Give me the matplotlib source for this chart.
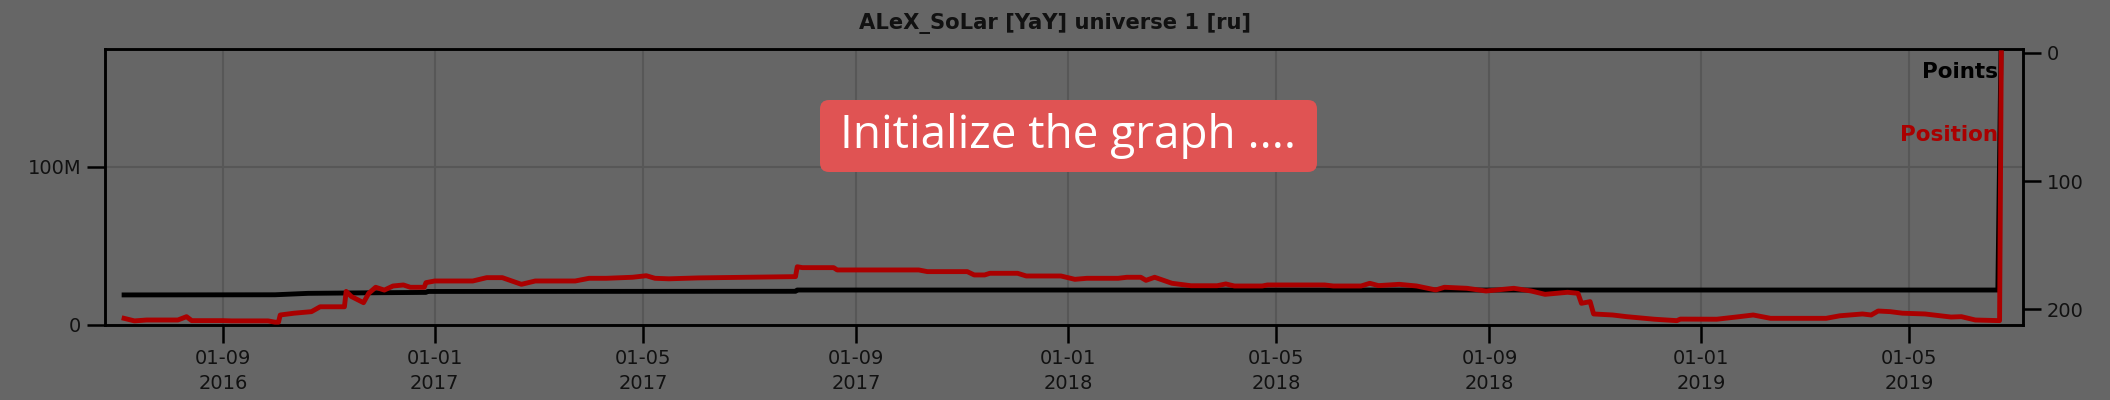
import matplotlib
matplotlib.use("Agg")
import matplotlib.pyplot as plt
import matplotlib.dates as mdates
from matplotlib.patches import FancyBboxPatch
from matplotlib.transforms import IdentityTransform
import pandas as pd

# ---------------- data ----------------
title = "ALeX_SoLar [YaY] universe 1 [ru]"
overlay_text = "Initialize the graph ...."

points_dates = ["2016-07-06", "2016-10-01", "2016-10-20", "2016-12-01", "2016-12-27",
                "2016-12-28", "2017-07-28", "2017-07-29", "2019-06-21", "2019-06-23"]
points_values = [19.0e6, 19.1e6, 20.0e6, 20.4e6, 20.6e6,
                 21.2e6, 21.3e6, 22.1e6, 22.1e6, 190e6]

position_dates = [
    "2016-07-06", "2016-07-12", "2016-07-19", "2016-08-06", "2016-08-11", "2016-08-14",
    "2016-09-01", "2016-09-06", "2016-09-27", "2016-10-01", "2016-10-03", "2016-10-04",
    "2016-10-12", "2016-10-22", "2016-10-27", "2016-11-10", "2016-11-11", "2016-11-14",
    "2016-11-21", "2016-11-24", "2016-11-28", "2016-12-03", "2016-12-08", "2016-12-14",
    "2016-12-18", "2016-12-26", "2016-12-27", "2017-01-01", "2017-01-23", "2017-01-31",
    "2017-02-09", "2017-02-20", "2017-02-28", "2017-03-23", "2017-03-31", "2017-04-10",
    "2017-04-25", "2017-05-03", "2017-05-08", "2017-05-16", "2017-06-02", "2017-07-28",
    "2017-07-29", "2017-08-01", "2017-08-19", "2017-08-21", "2017-10-07", "2017-10-12",
    "2017-11-04", "2017-11-08", "2017-11-14", "2017-11-17", "2017-12-03", "2017-12-08",
    "2017-12-28", "2018-01-05", "2018-01-12", "2018-01-30", "2018-02-04", "2018-02-12",
    "2018-02-15", "2018-02-20", "2018-03-02", "2018-03-13", "2018-03-28", "2018-04-02",
    "2018-04-07", "2018-04-23", "2018-04-26", "2018-05-29", "2018-06-03", "2018-06-19",
    "2018-06-24", "2018-06-29", "2018-07-11", "2018-07-21", "2018-08-01", "2018-08-06",
    "2018-08-19", "2018-08-30", "2018-09-15", "2018-09-25", "2018-10-03", "2018-10-16",
    "2018-10-22", "2018-10-24", "2018-10-29", "2018-10-31", "2018-11-11", "2018-11-19",
    "2018-12-05", "2018-12-18", "2018-12-20", "2019-01-10", "2019-01-23", "2019-01-31",
    "2019-02-10", "2019-03-14", "2019-03-22", "2019-04-04", "2019-04-09", "2019-04-13",
    "2019-04-20", "2019-04-27", "2019-05-10", "2019-05-25", "2019-05-31", "2019-06-08",
    "2019-06-22", "2019-06-23"]
position_values = [
    207, 209, 208.3, 208.3, 205.7, 208.8,
    208.8, 209, 209, 210, 210, 204.4,
    203, 201.8, 198, 198, 186, 190,
    194.8, 187.5, 182.8, 185, 181.8, 181,
    182.8, 182.8, 179.2, 177.9, 177.9, 175.3,
    175.3, 180.5, 177.9, 177.9, 175.8, 175.8,
    175, 173.8, 175.8, 176.2, 175.5, 174.5,
    166.8, 167.5, 167.5, 169.3, 169.3, 170.6,
    170.6, 173.2, 173.2, 171.9, 171.9, 174,
    174, 176.6, 175.8, 175.8, 175, 175,
    177.4, 175, 179.7, 181.6, 181.6, 180.2,
    181.8, 181.8, 181, 181, 181.8, 181.8,
    179.7, 181.5, 180.5, 181.8, 184.9, 182.8,
    183.6, 185.7, 183.6, 185.7, 188.3, 186.7,
    187.5, 195.3, 194, 203.6, 204.4, 205.7,
    207.7, 208.8, 207.6, 207.7, 205.7, 204.4,
    207, 207, 205, 203.6, 204.4, 201.3,
    201.8, 203, 203.6, 206, 205.7, 208.3,
    208.8, 0]

left_ticks = [0, 100e6]
left_ticklabels = ["0", "100M"]
right_ticks = [0, 100, 200]
right_ticklabels = ["0", "100", "200"]
legend_labels = ["Points", "Position"]

# ---------------- styling ----------------
BG = "#666666"
GRID = "#575757"
RED = "#aa0000"
BOX = "#e05353"
FONT = "DejaVu Sans"

W, H, DPI = 2110, 400, 100
fig = plt.figure(figsize=(W / DPI, H / DPI), dpi=DPI, facecolor=BG)
L, R, T, B = 105, 2023, 49, 325
ax = fig.add_axes([L / W, 1 - B / H, (R - L) / W, (B - T) / H])
ax.set_facecolor(BG)
ax2 = ax.twinx()

pdates = pd.to_datetime(points_dates)
qdates = pd.to_datetime(position_dates)

ax.plot(pdates, points_values, color="black", lw=3.5, solid_joinstyle="round", zorder=3)
ax2.plot(qdates, position_values, color=RED, lw=3.5, solid_joinstyle="round", zorder=3)

ax.set_xlim(pd.Timestamp("2016-06-25"), pd.Timestamp("2019-07-05 12:00"))
ax.set_ylim(0, 174.4e6)
ax2.set_ylim(212.2, -2.9)

ax.xaxis.set_major_locator(mdates.MonthLocator(bymonth=[1, 5, 9]))
ax.xaxis.set_major_formatter(mdates.DateFormatter("%d-%m\n%Y"))
ax.set_yticks(left_ticks)
ax.set_yticklabels(left_ticklabels)
ax2.set_yticks(right_ticks)
ax2.set_yticklabels(right_ticklabels)

ax.grid(True, color=GRID, lw=1.5, zorder=0)
ax.set_axisbelow(True)

for a in (ax, ax2):
    for s in a.spines.values():
        s.set_color("black")
        s.set_linewidth(1.8)
    a.tick_params(length=13, width=1.8, color="black", labelcolor="#111111",
                  labelsize=14, pad=4)
for lab in ax.get_xticklabels() + ax.get_yticklabels() + ax2.get_yticklabels():
    lab.set_family(FONT)
for lab in ax.get_xticklabels():
    lab.set_linespacing(1.45)

fig.text((L + R) / 2 / W - 0.004, 1 - 23 / H, title, ha="center", va="center",
         fontsize=15.2, fontweight="bold", color="#111111", family=FONT)

ax.text(0.987, 0.918, legend_labels[0], transform=ax.transAxes, ha="right", va="center",
        fontsize=15.5, fontweight="bold", color="black", family=FONT, zorder=5)
ax.text(0.987, 0.688, legend_labels[1], transform=ax.transAxes, ha="right", va="center",
        fontsize=15.5, fontweight="bold", color=RED, family=FONT, zorder=5)

# overlay box (pixel coordinates, origin bottom-left)
bx0, bx1, by0, by1 = 820, 1317, H - 172, H - 100
box = FancyBboxPatch((bx0, by0), bx1 - bx0, by1 - by0,
                     boxstyle="round,pad=0,rounding_size=9",
                     facecolor=BOX, edgecolor="none", transform=IdentityTransform(),
                     zorder=10)
fig.add_artist(box)
fig.text((bx0 + bx1) / 2 / W, 1 - 136 / H, overlay_text, ha="center", va="center",
         fontsize=33, color="white", family=["Open Sans", "DejaVu Sans"], zorder=11)

fig.savefig("out.png", dpi=DPI, facecolor=BG)
